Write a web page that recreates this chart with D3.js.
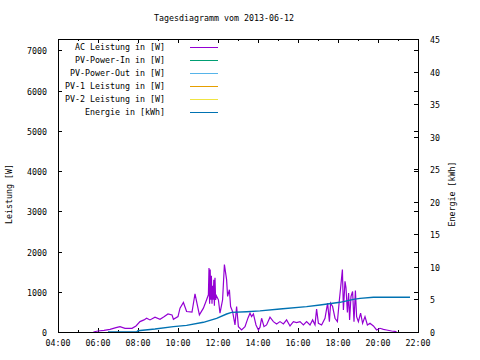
<!DOCTYPE html>
<html><head><meta charset="utf-8">
<script src="https://cdn.jsdelivr.net/npm/d3@7"></script>
<style>body{margin:0;background:#fff}svg{display:block}text{font-family:"DejaVu Sans Mono","Liberation Mono",monospace;font-size:8.3px;fill:#000}</style>
</head><body><svg id="c" width="480" height="360"></svg>
<script>
const title = "Tagesdiagramm vom 2013-06-12";
const xTickLabels = ["04:00","06:00","08:00","10:00","12:00","14:00","16:00","18:00","20:00","22:00"];
const yTicks = [0,1000,2000,3000,4000,5000,6000,7000];
const y2Ticks = [0,5,10,15,20,25,30,35,40,45];
const seriesNames = ["AC Leistung in [W]","PV-Power-In in [W]","PV-Power-Out in [W]","PV-1 Leistung in [W]","PV-2 Leistung in [W]","Energie in [kWh]"];
const seriesColors = ["#9400d3","#009e73","#56b4e9","#e69f00","#f0e442","#0072b2"];
// hours of day, W
const acPower = [[5.77,0],[6.0,25],[6.3,40],[6.6,67],[6.9,110],[7.1,133],[7.35,92],[7.7,92],[7.9,150],[8.1,258],[8.3,300],[8.43,342],[8.6,300],[8.85,367],[9.1,317],[9.3,380],[9.5,450],[9.7,425],[9.77,317],[10.0,383],[10.1,592],[10.27,733],[10.43,508],[10.7,492],[10.85,950],[11.07,425],[11.27,592],[11.43,800],[11.52,925],[11.55,1592],[11.58,700],[11.61,1550],[11.64,800],[11.67,1400],[11.7,700],[11.73,1150],[11.76,800],[11.79,1300],[11.82,650],[11.85,1350],[11.88,800],[11.92,900],[12.02,800],[12.1,467],[12.23,800],[12.32,1675],[12.43,1300],[12.48,883],[12.57,1050],[12.63,633],[12.73,508],[12.85,175],[12.93,633],[13.02,133],[13.18,50],[13.35,133],[13.5,350],[13.6,467],[13.68,383],[13.77,450],[13.9,175],[14.02,50],[14.1,120],[14.18,342],[14.3,133],[14.43,175],[14.6,367],[14.77,258],[14.93,200],[15.1,258],[15.27,200],[15.43,300],[15.6,150],[15.77,258],[15.93,233],[16.1,258],[16.27,175],[16.43,258],[16.6,175],[16.73,300],[16.85,180],[16.93,567],[17.02,217],[17.18,175],[17.35,342],[17.48,717],[17.57,258],[17.63,717],[17.73,633],[17.85,342],[17.97,258],[18.07,800],[18.13,1092],[18.22,1550],[18.27,550],[18.35,1258],[18.4,1100],[18.47,483],[18.53,967],[18.58,300],[18.65,883],[18.73,1008],[18.8,258],[18.87,1033],[18.93,383],[19.02,258],[19.13,467],[19.23,217],[19.35,383],[19.47,175],[19.6,217],[19.77,150],[19.93,50],[20.1,92],[20.27,67],[20.43,50],[20.68,25],[20.85,17],[20.93,0]];
const pvPowerIn = [];
const pvPowerOut = [];
const pv1 = [];
const pv2 = [];
// hours of day, kWh
const energy = [[6.5,0],[7.93,0],[8.0,0.2],[8.85,0.46],[9.77,0.82],[10.43,1.02],[11.27,1.49],[11.93,2.1],[12.43,2.76],[12.68,3.02],[13.43,3.12],[14.1,3.25],[15.1,3.53],[16.43,3.89],[17.1,4.15],[18.1,4.56],[18.77,5.02],[19.1,5.17],[19.77,5.33],[21.6,5.33]];

const L=58,R=418,T=39,B=332;
const svg=d3.select("#c");
const x=d3.scaleLinear().domain([4,22]).range([L,R]);
const y=d3.scaleLinear().domain([0,7280]).range([B,T]);
const y2=d3.scaleLinear().domain([0,45]).range([B,T]);

svg.append("text").attr("x",224).attr("y",21).attr("text-anchor","middle").text(title);

const g=svg.append("g");
const hrs=d3.range(4,23,1);
hrs.forEach(h=>{
  const len = h%2===0?4:2, xx=Math.round(x(h))+0.5;
  g.append("line").attr("x1",xx).attr("x2",xx).attr("y1",B).attr("y2",B-len).attr("stroke","#000");
  g.append("line").attr("x1",xx).attr("x2",xx).attr("y1",T).attr("y2",T+len).attr("stroke","#000");
});
xTickLabels.forEach((t,i)=>{
  g.append("text").attr("x",x(4+2*i)).attr("y",346).attr("text-anchor","middle").text(t);
});
yTicks.forEach(v=>{
  const yy=Math.round(y(v))+0.5;
  g.append("line").attr("x1",L).attr("x2",L+4).attr("y1",yy).attr("y2",yy).attr("stroke","#000");
  g.append("line").attr("x1",R).attr("x2",R-4).attr("y1",yy).attr("y2",yy).attr("stroke","#000");
  g.append("text").attr("x",47).attr("y",yy+3).attr("text-anchor","end").text(v);
});
y2Ticks.forEach(v=>{
  const yy=Math.round(y2(v))+0.5;
  g.append("line").attr("x1",R).attr("x2",R-4).attr("y1",yy).attr("y2",yy).attr("stroke","#000");
  g.append("text").attr("x",430).attr("y",yy+3).text(v);
});
svg.append("text").attr("transform","translate(12,194) rotate(-90)").attr("text-anchor","middle").text("Leistung [W]");
svg.append("text").attr("transform","translate(455,194) rotate(-90)").attr("text-anchor","middle").text("Energie [kWh]");

seriesNames.forEach((n,i)=>{
  const yy=47+i*13;
  svg.append("text").attr("x",165).attr("y",yy+3).attr("text-anchor","end").text(n);
  svg.append("line").attr("x1",190).attr("x2",218).attr("y1",yy+0.5).attr("y2",yy+0.5).attr("stroke",seriesColors[i]).attr("stroke-width",1);
});

const lineW=d3.line().x(d=>x(d[0])).y(d=>y(d[1]));
const lineE=d3.line().x(d=>x(d[0])).y(d=>y2(d[1]));
[acPower,pvPowerIn,pvPowerOut,pv1,pv2].forEach((s,i)=>{
  if(s.length) svg.append("path").attr("d",lineW(s)).attr("fill","none").attr("stroke",seriesColors[i]).attr("stroke-width",1.2);
});
svg.append("path").attr("d",lineE(energy)).attr("fill","none").attr("stroke",seriesColors[5]).attr("stroke-width",1.4);

svg.append("rect").attr("x",L+0.5).attr("y",T+0.5).attr("width",R-L).attr("height",B-T).attr("fill","none").attr("stroke","#000");
</script></body></html>
